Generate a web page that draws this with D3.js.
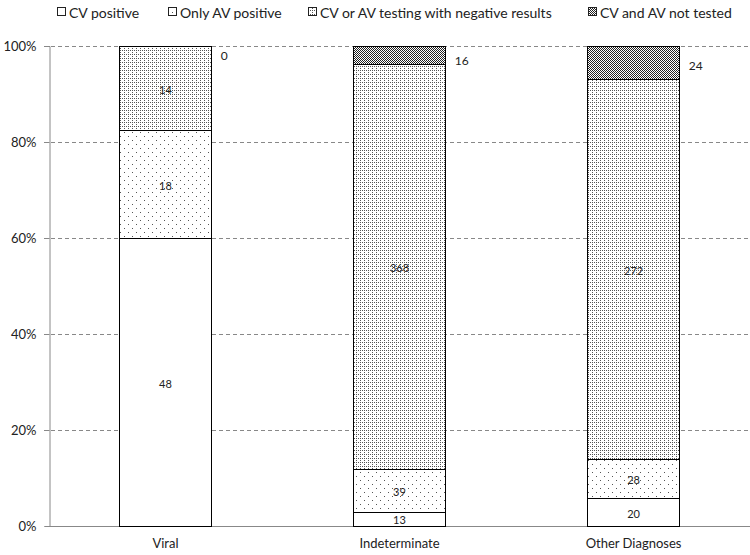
<!DOCTYPE html>
<html><head><meta charset="utf-8">
<script src="https://cdn.jsdelivr.net/npm/d3@7"></script>
<style>body{margin:0;background:#fff}svg{display:block;font-family:Lato,"Open Sans",sans-serif}</style>
</head><body><svg id="c" width="750" height="555"></svg>
<script>
const categories = ["Viral", "Indeterminate", "Other Diagnoses"];
const seriesNames = ["CV positive", "Only AV positive", "CV or AV testing with negative results", "CV and AV not tested"];
const cvPositive = [48, 13, 20];
const onlyAvPositive = [18, 39, 28];
const negativeResults = [14, 368, 272];
const notTested = [0, 16, 24];
const yTicks = [0, 0.2, 0.4, 0.6, 0.8, 1.0];

const series = [cvPositive, onlyAvPositive, negativeResults, notTested];
const rows = categories.map((c, i) => {
  const r = {cat: c};
  seriesNames.forEach((s, k) => r[s] = series[k][i]);
  return r;
});
const stack = d3.stack().keys(seriesNames).offset(d3.stackOffsetExpand)(rows);

const svg = d3.select("#c");
const m = {l: 49, r: 750, t: 46, b: 526};
const x = d3.scaleBand().domain(categories).range([m.l, m.r]).paddingInner(0.605).paddingOuter(0.3);
const y = d3.scaleLinear().domain([0, 1]).range([m.b, m.t]);

const defs = svg.append("defs");
function pat(id, w, h, bg, rects, fg) {
  const p = defs.append("pattern").attr("id", id).attr("patternUnits", "userSpaceOnUse")
    .attr("width", w).attr("height", h);
  p.append("rect").attr("width", w).attr("height", h).attr("fill", bg);
  rects.forEach(r => p.append("rect").attr("x", r[0]).attr("y", r[1]).attr("width", r[2]).attr("height", r[3]).attr("fill", fg).attr("shape-rendering", "crispEdges"));
}
pat("p0", 4, 4, "#fff", [], "#000");
pat("p1", 8, 8, "#fff", [[0, 0, 1, 1], [4, 4, 1, 1]], "#555");
pat("p2", 4, 4, "#fff", [[0, 0, 1, 1], [2, 2, 1, 1], [0,2,1,1]], "#555");
pat("p3", 2, 2, "#fff", [[0, 0, 1, 1], [1, 1, 1, 1]], "#222");
const fills = ["url(#p0)", "url(#p1)", "url(#p2)", "url(#p3)"];

// gridlines
svg.append("g").selectAll("line").data(yTicks.filter(t => t > 0)).join("line")
  .attr("x1", 44).attr("x2", m.r).attr("y1", d => Math.round(y(d)) + 0.5).attr("y2", d => Math.round(y(d)) + 0.5)
  .attr("stroke", "#888").attr("stroke-dasharray", "4,3");

// y axis
const ya = d3.axisLeft(y).tickValues(yTicks).tickFormat(d3.format(".0%")).tickSize(5).tickPadding(8);
const gy = svg.append("g").attr("transform", `translate(${m.l + 0.5},0)`).call(ya);
gy.select(".domain").attr("stroke", "#888");
gy.selectAll(".tick line").attr("stroke", "#888");
gy.selectAll("text").attr("font-size", 13).attr("fill", "#222").attr("font-family", "Lato,sans-serif");

// x axis
const xa = d3.axisBottom(x).tickSize(0).tickPadding(12);
const gx = svg.append("g").attr("transform", `translate(0,${m.b + 0.5})`).call(xa);
gx.select(".domain").attr("stroke", "#888").attr("d", `M${m.l},0H${m.r}`);
gx.selectAll("text").attr("font-size", 13).attr("fill", "#222").attr("font-family", "Lato,sans-serif");

// bars
stack.forEach((s, k) => {
  const g = svg.append("g");
  g.selectAll("rect").data(s).join("rect")
    .attr("x", d => Math.round(x(d.data.cat)) + 0.5)
    .attr("y", d => Math.round(y(d[1])) + 0.5)
    .attr("width", Math.round(x.bandwidth()))
    .attr("height", d => Math.round(y(d[0])) - Math.round(y(d[1])))
    .attr("fill", fills[k]).attr("stroke", "#000").attr("stroke-width", 1);
});

// labels
stack.forEach((s, k) => {
  svg.append("g").selectAll("text").data(s).join("text")
    .attr("font-size", 11).attr("fill", "#222")
    .attr("dominant-baseline", "central")
    .each(function (d) {
      const v = d.data[seriesNames[k]];
      const t = d3.select(this).text(v);
      const top = y(d[1]), bot = y(d[0]), mid = (top + bot) / 2, h = bot - top;
      if (k === 3) {
        t.attr("x", x(d.data.cat) + x.bandwidth() + 9).attr("text-anchor", "start")
          .attr("y", mid + 8 * Math.max(0, 1 - h / 40) + 1).attr("font-size", 12);
      } else {
        t.attr("x", x(d.data.cat) + x.bandwidth() / 2).attr("text-anchor", "middle").attr("y", mid + 1);
      }
    });
});

// legend
const legX = [57, 168, 308, 588];
const lg = svg.append("g");
seriesNames.forEach((s, k) => {
  lg.append("rect").attr("x", legX[k] + 0.5).attr("y", 7.5).attr("width", 8).attr("height", 8)
    .attr("fill", fills[k]).attr("stroke", "#222");
  lg.append("text").attr("x", legX[k] + 12).attr("y", 12).attr("dominant-baseline", "central")
    .attr("font-size", 14).attr("fill", "#222").text(s);
});
</script></body></html>
